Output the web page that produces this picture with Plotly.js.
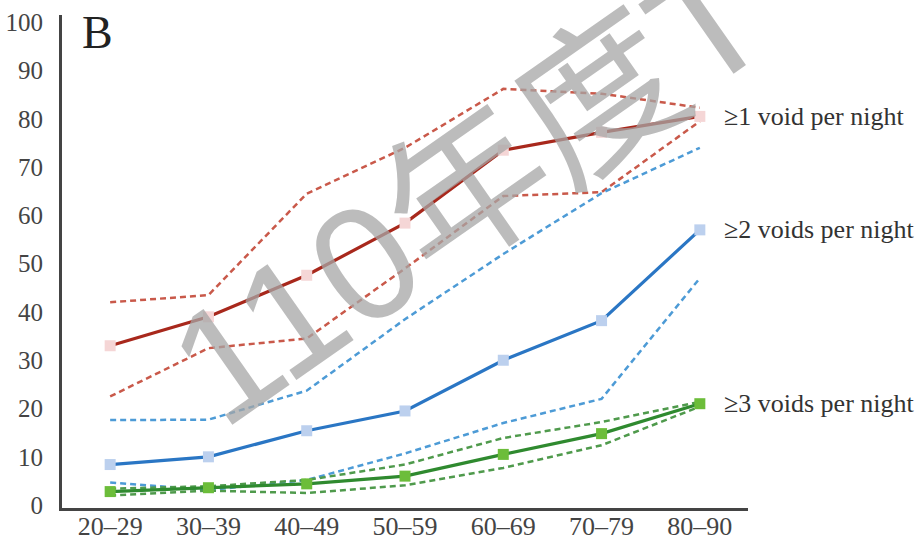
<!DOCTYPE html>
<html><head><meta charset="utf-8">
<script src="https://cdn.plot.ly/plotly-3.0.1.min.js"></script>
<style>html,body{margin:0;padding:0;background:#fff}</style>
</head><body><div id="chart" style="width:919px;height:541px"></div>
<script>
const ageGroups = ['20–29','30–39','40–49','50–59','60–69','70–79','80–90'];
const yTicks = [0,10,20,30,40,50,60,70,80,90,100];

const void1 = [33, 39, 47.6, 58.4, 73.5, 77.2, 80.5];
const void1Upper = [42, 43.5, 64.5, 74, 86.2, 85.2, 82.3];
const void1Lower = [22.5, 32.5, 34.5, 49, 64, 64.8, 79.5];

const void2 = [8.4, 10, 15.4, 19.5, 30, 38.2, 57];
const void2Upper = [17.6, 17.7, 23.7, 38.5, 52, 64.6, 74];
const void2Lower = [4.7, 3.1, 5.2, 10.7, 17, 22, 47];

const void3 = [2.8, 3.6, 4.4, 6, 10.5, 14.8, 21];
const void3Upper = [3.4, 3.9, 5.2, 8.4, 13.9, 17.2, 21.4];
const void3Lower = [2.0, 3.0, 2.5, 4.1, 7.7, 12.4, 20.4];

const labels = ['≥1 void per night', '≥2 voids per night', '≥3 voids per night'];
const panelLabel = 'B';
const watermark = '110年度T';

function dashed(y, color){
  return {x: ageGroups, y: y, type:'scatter', mode:'lines',
    line:{color:color, width:2.5, dash:'6px,4px'}, hoverinfo:'skip', showlegend:false};
}
function solid(y, color, mcolor){
  return {x: ageGroups, y: y, type:'scatter', mode:'lines+markers',
    line:{color:color, width:3.2}, marker:{symbol:'square', size:11, color:mcolor},
    showlegend:false};
}

const traces = [
  dashed(void1Upper, '#c9594a'), dashed(void1Lower, '#c9594a'),
  dashed(void2Upper, '#4d9bd6'), dashed(void2Lower, '#4d9bd6'),
  dashed(void3Upper, '#4f9a4c'), dashed(void3Lower, '#4f9a4c'),
  solid(void1, '#a8281c', '#f5d6d6'),
  solid(void2, '#2a76c4', '#bcd0ee'),
  solid(void3, '#2f8a2f', '#6cbd3a')
];

const serif = '"Liberation Serif", "Times New Roman", serif';
const lastIdx = ageGroups.length - 1;
const annotations = [
  {x: ageGroups[lastIdx], y: void1[lastIdx], text: labels[0]},
  {x: ageGroups[lastIdx], y: void2[lastIdx], text: labels[1]},
  {x: ageGroups[lastIdx], y: void3[lastIdx], text: labels[2]}
].map(a => Object.assign(a, {xref:'x', yref:'y', xanchor:'left', yanchor:'middle',
  xshift: 22, showarrow:false, font:{family: serif, size: 26, color:'#333'}}));

annotations.push({xref:'paper', yref:'paper', x:0.026, y:1.02, xanchor:'left', yanchor:'top',
  text: panelLabel, showarrow:false, font:{family: serif, size: 46, color:'#222'}});

annotations.push({xref:'paper', yref:'paper', x:0.592, y:0.645, xanchor:'center', yanchor:'middle',
  text: watermark, showarrow:false, textangle:-35,
  font:{family:'"Liberation Sans", "Noto Sans CJK TC", sans-serif', size:162, color:'rgba(165,165,165,0.75)'}});

const layout = {
  width: 919, height: 541,
  margin: {l: 62, r: 171, t: 15, b: 33},
  paper_bgcolor: '#fff', plot_bgcolor: '#fff',
  showlegend: false,
  xaxis: {type:'category', categoryorder:'array', categoryarray: ageGroups,
    range:[-0.49, 6.49], showline:true, linecolor:'#444', linewidth:3,
    showgrid:false, zeroline:false, ticks:'', ticklen:0, ticklabelstandoff: -7,
    tickfont:{family: serif, size: 26, color:'#444'}},
  yaxis: {range:[-0.6, 101.5], tickvals: yTicks, ticktext: yTicks.map(String),
    showline:true, linecolor:'#444', linewidth:3, showgrid:false, zeroline:false,
    ticks:'', ticklabelstandoff: 11,
    tickfont:{family: serif, size: 25, color:'#444'}},
  annotations: annotations
};

Plotly.newPlot('chart', traces, layout, {displayModeBar:false, staticPlot:true});
</script>
</body></html>
